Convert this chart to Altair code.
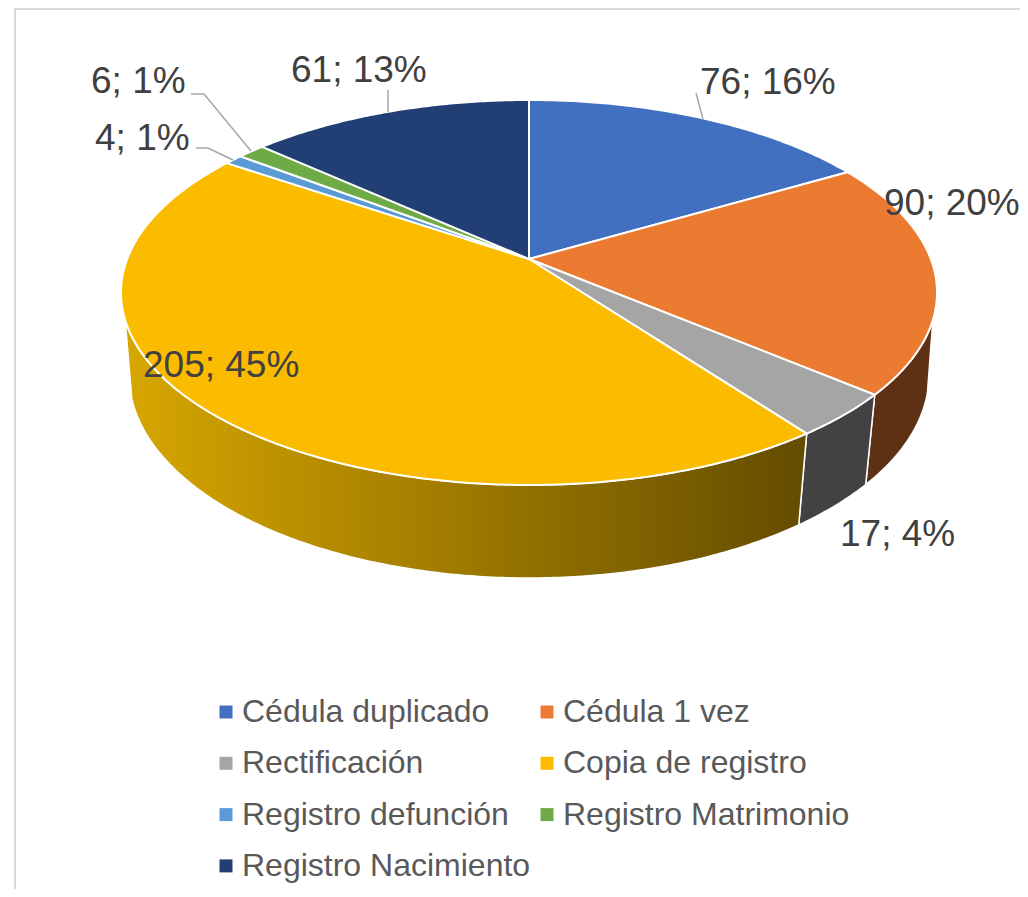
import math
import altair as alt
import pandas as pd

categories = ["Cédula duplicado", "Cédula 1 vez", "Rectificación", "Copia de registro",
              "Registro defunción", "Registro Matrimonio", "Registro Nacimiento"]
values = [76, 90, 17, 205, 4, 6, 61]
percents = [16, 20, 4, 45, 1, 1, 13]
colors = ["#4170C0", "#EB7B30", "#A5A5A5", "#FBBC00", "#5B9BD5", "#6EAB46", "#223F75"]
# the legend fills column by column; this order reads row by row as in the reference
legend_order = [0, 2, 4, 6, 1, 3, 5]

# layout of the tilted pie (perspective of a circle), in page pixels
CX, CY, AX, BY, P = 529, 259, 401.8, 186.7, 0.174
CY2, AX2, BY2, P2 = 342.1, 394.7, 197.7, 0.162
W, H = 1012, 881

def top(t):
    X, Y = math.sin(t), math.cos(t)
    w = 1 + P * Y
    return CX + AX * X / w, CY - BY * Y / w

def low(t):
    X, Y = math.sin(t), math.cos(t)
    w = 1 + P2 * Y
    return CX + AX2 * X / w, CY2 - BY2 * Y / w

def arc(a0, a1):
    n = max(3, int(abs(a1 - a0) / 0.01))
    return [a0 + (a1 - a0) * j / n for j in range(n + 1)]

total = sum(values)
bounds = [0]
for v in values:
    bounds.append(bounds[-1] + v)
angles = [b / total * 2 * math.pi for b in bounds]

caps = []
for k, cat in enumerate(categories):
    pts = [(CX, CY)] + [top(t) for t in arc(angles[k], angles[k + 1])]
    for i, (x, y) in enumerate(pts):
        caps.append({"series": cat, "i": i, "x": x, "y": y})
caps = pd.DataFrame(caps)

def wall(a_top0, a_top1, a_low1, a_low0):
    pts = [top(t) for t in arc(a_top0, a_top1)] + [low(t) for t in arc(a_low1, a_low0)]
    return pd.DataFrame([{"i": i, "x": x, "y": y} for i, (x, y) in enumerate(pts)])

xs = alt.Scale(domain=[8, 8 + W], nice=False, zero=False)
ys = alt.Scale(domain=[8 + H, 8], nice=False, zero=False)
X = alt.X("x:Q", scale=xs, axis=None)
Y = alt.Y("y:Q", scale=ys, axis=None)

def side(df, fill):
    return (alt.Chart(df)
            .mark_line(fill=fill, stroke="white", strokeWidth=1.5, interpolate="linear-closed")
            .encode(x=X, y=Y, order="i:Q"))

yellow_grad = alt.Gradient(gradient="linear", x1=0, y1=0, x2=1, y2=0,
                           stops=[alt.GradientStop(color="#D7A600", offset=0),
                                  alt.GradientStop(color="#634C00", offset=1)])
R = math.radians
side_layers = [
    side(wall(R(108), angles[2], angles[2], R(104.3)), "#5E3014"),
    side(wall(angles[2], angles[3], angles[3], angles[2]), "#424242"),
    side(wall(angles[3], R(252), R(254), angles[3]), yellow_grad),
]

cap_layer = (alt.Chart(caps)
             .mark_line(stroke="white", strokeWidth=2, interpolate="linear-closed")
             .encode(x=X, y=Y, order="i:Q",
                     fill=alt.Fill("series:N",
                                   scale=alt.Scale(domain=[categories[i] for i in legend_order],
                                                   range=[colors[i] for i in legend_order]),
                                   legend=alt.Legend(title=None, orient="none", legendX=202, legendY=688,
                                                     columns=2, symbolType="square", symbolSize=169,
                                                     symbolStrokeWidth=0, labelFont="Liberation Sans",
                                                     labelFontSize=32, labelColor="#595959", labelLimit=400,
                                                     labelOffset=0, rowPadding=19.3, columnPadding=0,
                                                     gridAlign="each", padding=0))))

# data labels
labels = pd.DataFrame({
    "text": [f"{v}; {p}%" for v, p in zip(values, percents)],
    "x": [700, 884, 840, 143, 95, 91, 291],
    "y": [94, 215, 546, 377, 150, 93, 82],
})
label_layer = (alt.Chart(labels)
               .mark_text(font="Liberation Sans", fontSize=37, color="#404040", align="left", baseline="alphabetic")
               .encode(x=X, y=Y, text="text:N"))

# leader lines
leaders = pd.DataFrame({
    "g": [0, 0, 1, 1, 1, 2, 2, 2, 3, 3],
    "i": [0, 1, 0, 1, 2, 0, 1, 2, 0, 1],
    "x": [703, 696, 251, 204, 191, 233, 208, 196, 388, 388],
    "y": [119, 93, 151, 94, 94, 160, 148, 148, 112, 90],
})
leader_layer = (alt.Chart(leaders)
                .mark_line(color="#A6A6A6", strokeWidth=1.5)
                .encode(x=X, y=Y, order="i:Q", detail="g:N"))

# chart frame
frame = pd.DataFrame({"i": [0, 1, 2], "x": [15, 15, 8 + W], "y": [8 + H, 9, 9]})
frame_layer = (alt.Chart(frame).mark_line(color="#D9D9D9", strokeWidth=2)
               .encode(x=X, y=Y, order="i:Q"))

chart = (alt.layer(frame_layer, *side_layers, cap_layer, leader_layer, label_layer)
         .properties(width=W, height=H, autosize=alt.AutoSizeParams(type="none"), padding=0)
         .configure_view(stroke=None))
chart.save("out.html", embed_options={"renderer": "svg", "actions": False})
